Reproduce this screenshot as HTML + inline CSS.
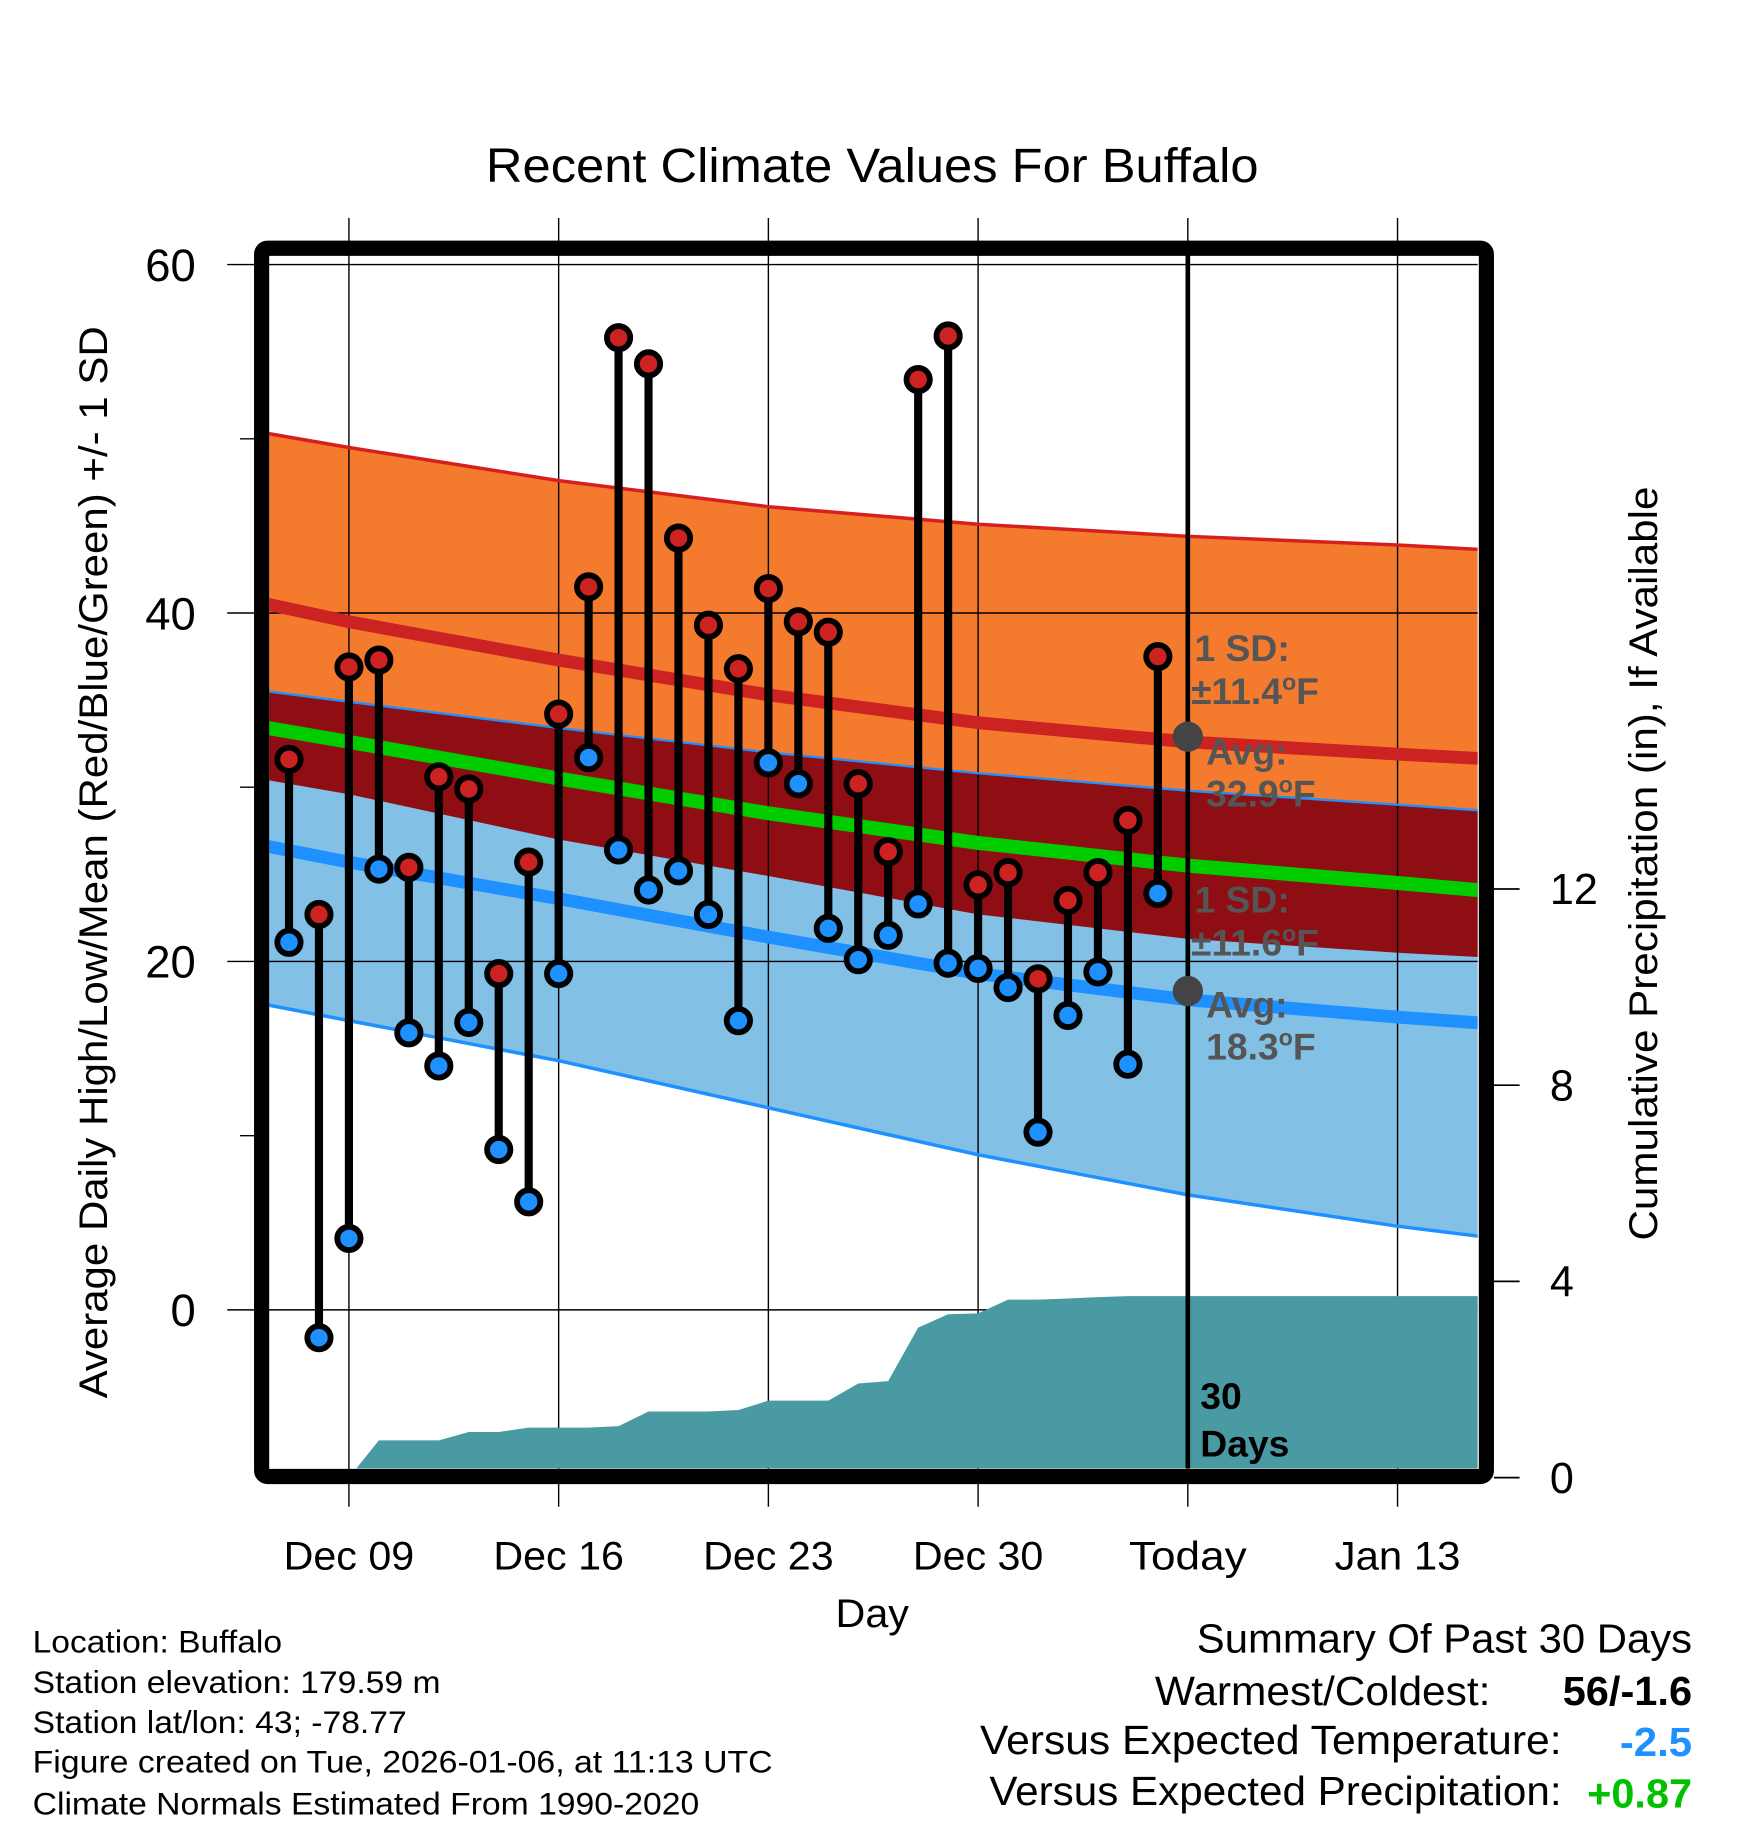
<!DOCTYPE html>
<html><head><meta charset="utf-8"><style>
html,body{margin:0;padding:0;background:#fff}
svg{display:block;font-family:"Liberation Sans",sans-serif}
</style></head><body>
<svg id="chart" width="1748" height="1828" viewBox="0 0 1500 1568.6" xmlns="http://www.w3.org/2000/svg">
<g id="fills"></g><g id="grid"></g><g id="precip"></g><g id="lines"></g><g id="marks"></g><g id="frame"></g><g id="labels"></g>
</svg>
<script>
// ---- data ----
const dayLabels = ["Dec 07","Dec 08","Dec 09","Dec 10","Dec 11","Dec 12","Dec 13","Dec 14","Dec 15","Dec 16","Dec 17","Dec 18","Dec 19","Dec 20","Dec 21","Dec 22","Dec 23","Dec 24","Dec 25","Dec 26","Dec 27","Dec 28","Dec 29","Dec 30","Dec 31","Jan 01","Jan 02","Jan 03","Jan 04","Jan 05"];
const highs = [31.6,22.7,36.9,37.3,25.4,30.6,29.9,19.3,25.7,34.2,41.5,55.8,54.3,44.3,39.3,36.8,41.4,39.5,38.9,30.2,26.3,53.4,55.9,24.4,25.1,19.0,23.5,25.1,28.1,37.5];
const lows = [21.1,-1.6,4.1,25.3,15.9,14.0,16.5,9.2,6.2,19.3,31.7,26.4,24.1,25.2,22.7,16.6,31.4,30.2,21.9,20.1,21.5,23.3,19.9,19.6,18.5,10.2,16.9,19.4,14.1,23.9];
const precipCum = [0,0,0,0.76,0.76,0.76,0.93,0.93,1.02,1.02,1.02,1.05,1.35,1.35,1.35,1.38,1.57,1.57,1.57,1.92,1.97,3.06,3.33,3.35,3.63,3.63,3.65,3.68,3.70,3.70];
// normals sampled at day offsets (from Dec 07)
const normDays = [-0.7,2,9,16,23,30,37,40.3];
const hiUpper = [50.3,49.5,47.6,46.1,45.1,44.4,43.9,43.6];
const hiMean = [40.5,39.5,37.3,35.3,33.7,32.6,31.9,31.6];
const hiLower = [30.4,29.6,27.0,24.9,22.7,21.3,20.5,20.2];
const loUpper = [35.5,34.9,33.4,32.0,30.8,29.8,29.0,28.6];
const avgMean = [33.4,32.6,30.5,28.5,26.8,25.5,24.5,24.0];
const loMean = [26.6,25.7,23.6,21.4,19.3,17.8,16.8,16.4];
const loLower = [17.5,16.6,14.3,11.6,8.9,6.6,4.8,4.1];
const xTickDays = [2,9,16,23,30,37];
const xTickLabels = ["Dec 09","Dec 16","Dec 23","Dec 30","Today","Jan 13"];
const yTicks = [0,20,40,60];
const yMinor = [10,30,50];
const pTicks = [0,4,8,12];

// ---- scales ----
const L=231,R=1268,T=219,B=1260;
const x = d => 248 + d*25.71;
const y = v => 1124 - v*14.95;
const py = p => 1268 - p*42.1;
const NS="http://www.w3.org/2000/svg";
function el(parent, tag, attrs){const e=document.createElementNS(NS,tag);for(const k in attrs)e.setAttribute(k,attrs[k]);document.getElementById(parent).appendChild(e);return e;}
function pts(arr){return arr.map((v,i)=>x(normDays[i]).toFixed(1)+","+y(v).toFixed(1));}
function band(up,lo){return "M"+pts(up).join(" L")+" L"+pts(lo).reverse().join(" L")+"Z";}

const defs=el("chart","defs",{});
defs.innerHTML='<clipPath id="pc"><rect x="'+L+'" y="'+T+'" width="'+(R-L)+'" height="'+(B-T)+'"/></clipPath>';
document.getElementById("fills").setAttribute("clip-path","url(#pc)");
document.getElementById("precip").setAttribute("clip-path","url(#pc)");
document.getElementById("lines").setAttribute("clip-path","url(#pc)");

let e;
e=el("fills","path",{d:band(hiUpper,hiLower),fill:"#f47a2e"});


e=el("fills","path",{d:band(loUpper,loLower),fill:"#82c0e6"});


e=el("fills","path",{d:band(loUpper,hiLower),fill:"#8e0e14"});



const xLabelWidths = [112,112,112,112,101,108];
xTickDays.forEach((d,i)=>{
  e=el("grid","line",{x1:x(d),x2:x(d),y1:187,y2:1293,stroke:"#000","stroke-width":1.2});
  
  
  e=el("labels","text",{x:x(d),y:1347,"font-size":34,"text-anchor":"middle",textLength:xLabelWidths[i],lengthAdjust:"spacingAndGlyphs"});
  e.textContent=xTickLabels[i];
  
  
});
yTicks.forEach(v=>{
  e=el("grid","line",{x1:195,x2:R,y1:y(v),y2:y(v),stroke:"#000","stroke-width":1.2});
  
  
  e=el("labels","text",{x:168,y:y(v)+14,"font-size":39,"text-anchor":"end"});
  e.textContent=v;
  
  
});
yMinor.forEach(v=>{
  e=el("grid","line",{x1:206,x2:220,y1:y(v),y2:y(v),stroke:"#000","stroke-width":1.2});
  
  
});
pTicks.forEach(p=>{
  e=el("grid","line",{x1:1282,x2:1304,y1:py(p),y2:py(p),stroke:"#000","stroke-width":1.5});
  
  
  e=el("labels","text",{x:1330,y:py(p)+13,"font-size":37});
  e.textContent=p;
  
  
});

let pd="M"+x(0)+","+py(0);
precipCum.forEach((p,i)=>{pd+=" L"+x(i).toFixed(1)+","+py(p).toFixed(1);});
pd+=" L"+(R+5)+","+py(precipCum[precipCum.length-1]).toFixed(1)+" L"+(R+5)+","+(B+5)+" L"+x(0)+","+(B+5)+"Z";
e=el("precip","path",{d:pd,fill:"#4a9aa3"});



function line(arr,color,w,name){e=el("lines","polyline",{points:pts(arr).join(" "),fill:"none",stroke:color,"stroke-width":w});}
line(hiUpper,"#d62020",3,"high-upper-sd-line");
line(hiMean,"#cc2222",11,"normal-high-line");
line(loUpper,"#1e90ff",2,"low-upper-sd-line");
line(avgMean,"#00cc00",12,"normal-mean-line");
line(loMean,"#1e90ff",11,"normal-low-line");
line(loLower,"#1e90ff",3,"low-lower-sd-line");

e=el("marks","line",{x1:x(30),x2:x(30),y1:T,y2:B,stroke:"#000","stroke-width":4});


[32.9,18.3].forEach(v=>{
  e=el("marks","circle",{cx:x(30),cy:y(v),r:13,fill:"#444"});
  
  
});

highs.forEach((h,i)=>{
  e=el("marks","line",{x1:x(i),x2:x(i),y1:y(h),y2:y(lows[i]),stroke:"#000","stroke-width":7});
  
  
});
highs.forEach((h,i)=>{
  e=el("marks","circle",{cx:x(i),cy:y(h),r:10,fill:"#cc2222",stroke:"#000","stroke-width":5});
  
  
  e=el("marks","circle",{cx:x(i),cy:y(lows[i]),r:10,fill:"#1e90ff",stroke:"#000","stroke-width":5});
  
  
});

e=el("frame","rect",{x:224.5,y:213,width:1051,height:1054,rx:5,fill:"none",stroke:"#000","stroke-width":13});


</script>
<script>
const lab=document.getElementById("labels");
lab.insertAdjacentHTML("beforeend",`
<text x="748.5" y="156" font-size="41" text-anchor="middle" textLength="663" lengthAdjust="spacingAndGlyphs">Recent Climate Values For Buffalo</text>
<text transform="translate(92,740) rotate(-90)" font-size="34" text-anchor="middle" textLength="920" lengthAdjust="spacingAndGlyphs">Average Daily High/Low/Mean (Red/Blue/Green) +/- 1 SD</text>
<text transform="translate(1422,741) rotate(-90)" font-size="34" text-anchor="middle" textLength="647" lengthAdjust="spacingAndGlyphs">Cumulative Precipitation (in), If Available</text>
<text x="748.5" y="1396" font-size="34" text-anchor="middle" textLength="63" lengthAdjust="spacingAndGlyphs">Day</text>
<g font-size="32" font-weight="bold" fill="#555">
<text x="1025" y="567">1 SD:</text>
<text x="1022" y="604">±11.4<tspan font-size="20" dy="-12">o</tspan><tspan dy="12">F</tspan></text>
<text x="1035" y="656">Avg:</text>
<text x="1035" y="692">32.9<tspan font-size="20" dy="-12">o</tspan><tspan dy="12">F</tspan></text>
</g>
<g font-size="32" font-weight="bold" fill="#555">
<text x="1025" y="783">1 SD:</text>
<text x="1022" y="820">±11.6<tspan font-size="20" dy="-12">o</tspan><tspan dy="12">F</tspan></text>
<text x="1035" y="873">Avg:</text>
<text x="1035" y="909">18.3<tspan font-size="20" dy="-12">o</tspan><tspan dy="12">F</tspan></text>
</g>
<g font-size="32" font-weight="bold">
<text x="1030" y="1209">30</text><text x="1030" y="1250">Days</text>
</g>
<g font-size="27" lengthAdjust="spacingAndGlyphs">
<text x="28" y="1418" textLength="214" lengthAdjust="spacingAndGlyphs">Location: Buffalo</text>
<text x="28" y="1453" textLength="350" lengthAdjust="spacingAndGlyphs">Station elevation: 179.59 m</text>
<text x="28" y="1487" textLength="321" lengthAdjust="spacingAndGlyphs">Station lat/lon: 43; -78.77</text>
<text x="28" y="1521" textLength="635" lengthAdjust="spacingAndGlyphs">Figure created on Tue, 2026-01-06, at 11:13 UTC</text>
<text x="28" y="1557" textLength="572" lengthAdjust="spacingAndGlyphs">Climate Normals Estimated From 1990-2020</text>
</g>
<g font-size="35">
<text x="1027" y="1418" textLength="425" lengthAdjust="spacingAndGlyphs">Summary Of Past 30 Days</text>
<text x="991" y="1463" textLength="288" lengthAdjust="spacingAndGlyphs">Warmest/Coldest:</text>
<text x="1341" y="1463" font-weight="bold" textLength="111" lengthAdjust="spacingAndGlyphs">56/-1.6</text>
<text x="841" y="1505" textLength="499" lengthAdjust="spacingAndGlyphs">Versus Expected Temperature:</text>
<text x="1390" y="1507" font-weight="bold" fill="#1e90ff" textLength="62" lengthAdjust="spacingAndGlyphs">-2.5</text>
<text x="849" y="1549" textLength="491" lengthAdjust="spacingAndGlyphs">Versus Expected Precipitation:</text>
<text x="1362" y="1551" font-weight="bold" fill="#00c000" textLength="90" lengthAdjust="spacingAndGlyphs">+0.87</text>
</g>`);
</script>
</body></html>
